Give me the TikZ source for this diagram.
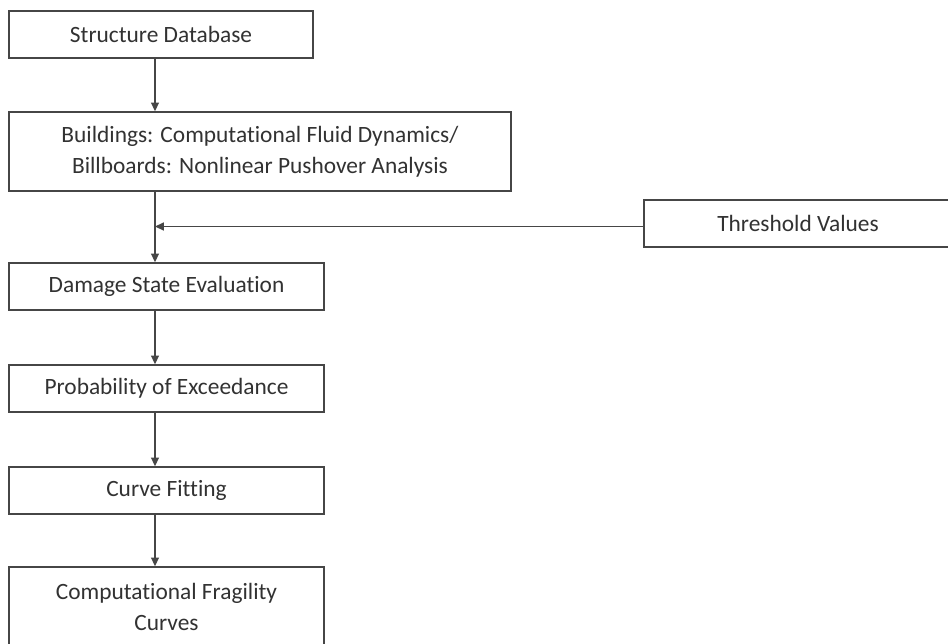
\documentclass[tikz,border=0pt]{standalone}
\usepackage{fontspec}
\setmainfont{Carlito}[Ligatures={NoCommon,NoDiscretionary,NoContextual}]
\usetikzlibrary{arrows.meta}
\definecolor{boxline}{RGB}{70,70,70}
\definecolor{boxtext}{RGB}{50,50,50}
\tikzset{
  stagebox/.style={draw=boxline, line width=0.8pt, fill=white, text=boxtext,
    align=center, inner sep=0pt, minimum height=0.94cm},
  flowarrow/.style={draw=boxline, line width=0.8pt,
    -{Triangle[length=5pt,width=4.5pt]}}
}
\begin{document}
\begin{tikzpicture}
                \useasboundingbox (0.000000,0.000000) rectangle (18.960000,-12.860000);
                {\fontsize{13.3}{17.6}\selectfont
                
                % Spine of the flow
                \coordinate (spine) at (3.100000,0.000000);%
                
                % Boxes of the main chain
                \node [stagebox, minimum width=6.080000cm] (db) at (3.220000,-0.690000) {Structure Database};%
                \node [stagebox, minimum width=10.040000cm, minimum height=1.580000cm] (analysis) at (5.200000,-3.030000) {Buildings: Computational Fluid Dynamics/\\Billboards: Nonlinear Pushover Analysis};%
                \node [stagebox, minimum width=6.300000cm] (damage) at (3.330000,-5.730000) {Damage State Evaluation};%
                \node [stagebox, minimum width=6.300000cm] (prob) at (3.330000,-7.770000) {Probability of Exceedance};%
                \node [stagebox, minimum width=6.300000cm] (fit) at (3.330000,-9.810000) {Curve Fitting};%
                \node [stagebox, minimum width=6.300000cm, minimum height=1.580000cm] (fragility) at (3.330000,-12.130000) {Computational Fragility\\Curves};%
                
                % Side input
                \node [stagebox, minimum width=6.160000cm] (threshold) at (15.960000,-4.470000) {Threshold Values};%
                \coordinate (feed) at ([yshift=-0.060000cm]threshold.west);%
                
                % Drawing arrows down the spine
                \draw [flowarrow] (db.south -| spine) -- (analysis.north -| spine);%
                \draw [flowarrow] (analysis.south -| spine) -- (damage.north -| spine);%
                \draw [flowarrow] (damage.south -| spine) -- (prob.north -| spine);%
                \draw [flowarrow] (prob.south -| spine) -- (fit.north -| spine);%
                \draw [flowarrow] (fit.south -| spine) -- (fragility.north -| spine);%
                
                % Drawing threshold input
                \draw [flowarrow] (feed) -- (feed -| spine);%
                }
\end{tikzpicture}
\end{document}
